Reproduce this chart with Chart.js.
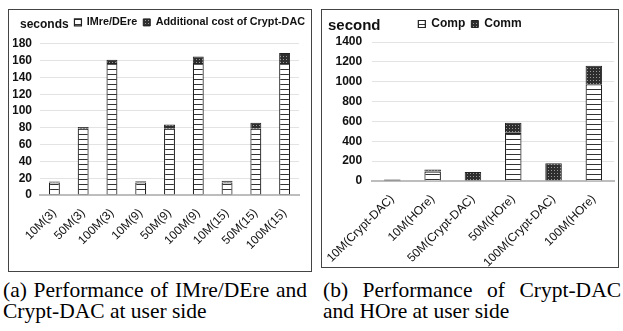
<!DOCTYPE html>
<html>
<head>
<meta charset="utf-8">
<script src="https://cdn.jsdelivr.net/npm/chart.js@4"></script>
<style>
  body { margin: 0; background: #fff; width: 623px; height: 331px; position: relative; overflow: hidden; }
  .box { position: absolute; border: 1px solid #444; box-sizing: border-box; overflow: hidden; }
  .box canvas { position: absolute; left: 0; top: 0; }
  .unit { position: absolute; font-family: "Liberation Sans", Arial, sans-serif; font-weight: bold; color: #111; }
  .cap { position: absolute; font-family: "Liberation Serif", "Times New Roman", serif; font-size: 21.5px; line-height: 21px; text-align: justify; color: #000; }
  .nw { white-space: nowrap; }
</style>
</head>
<body>
<div class="box" id="boxA" style="left:8px; top:9px; width:304px; height:263px;">
  <canvas id="chartA" width="302" height="261"></canvas>
  <div class="unit" style="left:11px; top:7px; font-size:12px;">seconds</div>
</div>
<div class="box" id="boxB" style="left:321px; top:9px; width:298px; height:259px;">
  <canvas id="chartB" width="296" height="257"></canvas>
  <div class="unit" style="left:6px; top:6px; font-size:15px;">second</div>
</div>
<div class="cap" style="left:3px; top:280px; width:304px;">(a) Performance of IMre/DEre and <span class="nw">Crypt-DAC</span> at user side</div>
<div class="cap" style="left:323px; top:280px; width:298px;">(b) Performance of <span class="nw">Crypt-DAC</span> <span class="nw">and HOre</span> at user side</div>

<script>
// Chart (a) data
const categoriesA = ["10M(3)", "50M(3)", "100M(3)", "10M(9)", "50M(9)", "100M(9)", "10M(15)", "50M(15)", "100M(15)"];
const imreDere = [15, 79, 157, 15, 79, 157, 15, 79, 157];
const additionalCost = [1, 2, 4, 1.5, 5, 8, 2, 7, 12];

// Chart (b) data
const categoriesB = ["10M(Crypt-DAC)", "10M(HOre)", "50M(Crypt-DAC)", "50M(HOre)", "100M(Crypt-DAC)", "100M(HOre)"];
const comp = [0, 96, 0, 485, 0, 975];
const comm = [15, 20, 90, 102, 179, 185];

const FONT = "'Liberation Sans', Arial, sans-serif";

// Patterns: white with horizontal stripes, and dark dotted
function stripePattern() {
  const c = document.createElement("canvas");
  c.width = 4; c.height = 5;
  const g = c.getContext("2d");
  g.fillStyle = "#fff";
  g.fillRect(0, 0, 4, 5);
  g.fillStyle = "#333";
  g.fillRect(0, 4, 4, 1);
  return g.createPattern(c, "repeat");
}

function dotPattern() {
  const c = document.createElement("canvas");
  c.width = 3; c.height = 3;
  const g = c.getContext("2d");
  g.fillStyle = "#2e2e2e";
  g.fillRect(0, 0, 3, 3);
  g.fillStyle = "#9a9a9a";
  g.fillRect(1, 1, 1, 1);
  return g.createPattern(c, "repeat");
}

// empty axes used only as spacers (below the legend / right of the plot)
function spacer(pos, size) {
  return {
    position: pos,
    display: true,
    grid: { display: false },
    border: { display: false },
    ticks: { display: false },
    afterFit: a => { if (pos === "top") a.height = size; else a.width = size; }
  };
}

function axisOpts(max, step, yWidth, xHeight, tickPad, xFont, topGap, rightGap) {
  return {
    x: {
      stacked: true,
      grid: { display: false },
      border: { color: "#bdbdbd", width: 2 },
      ticks: { autoSkip: false, minRotation: 45, maxRotation: 45, color: "#111", font: { family: FONT, size: xFont } },
      afterFit: a => { a.height = xHeight; }
    },
    y: {
      stacked: true,
      min: 0,
      max: max,
      grid: { color: "#e3e3e3", drawTicks: false },
      border: { display: false },
      ticks: { autoSkip: false, stepSize: step, padding: tickPad, color: "#111", font: { family: FONT, size: 12, weight: "bold" }, callback: v => String(v) },
      afterFit: a => { a.width = yWidth; }
    },
    x2: spacer("top", topGap),
    y2: spacer("right", rightGap)
  };
}

new Chart(document.getElementById("chartA"), {
  type: "bar",
  data: {
    labels: categoriesA,
    datasets: [
      { label: "IMre/DEre", data: imreDere, backgroundColor: stripePattern(), borderColor: "#222", borderWidth: 1.2, barPercentage: 0.38, categoryPercentage: 1 },
      { label: "Additional cost of Crypt-DAC", data: additionalCost, backgroundColor: dotPattern(), borderColor: "#222", borderWidth: 1, barPercentage: 0.38, categoryPercentage: 1 }
    ]
  },
  options: {
    responsive: false,
    animation: false,
    layout: { padding: { left: 4, right: 0, top: 1, bottom: 0 } },
    plugins: {
      tooltip: { enabled: false },
      legend: {
        align: "end",
        labels: { boxWidth: 7, boxHeight: 7, padding: 6, color: "#111", font: { family: FONT, size: 10.8, weight: "bold" } }
      }
    },
    scales: axisOpts(180, 20, 27, 76, 8, 12, 6, 12)
  }
});

new Chart(document.getElementById("chartB"), {
  type: "bar",
  data: {
    labels: categoriesB,
    datasets: [
      { label: "Comp", data: comp, backgroundColor: stripePattern(), borderColor: "#222", borderWidth: 1.2, barPercentage: 0.41, categoryPercentage: 1 },
      { label: "Comm", data: comm, backgroundColor: dotPattern(), borderColor: "#222", borderWidth: 1, barPercentage: 0.41, categoryPercentage: 1 }
    ]
  },
  options: {
    responsive: false,
    animation: false,
    layout: { padding: { left: 0, right: 0, top: 2, bottom: 0 } },
    plugins: {
      tooltip: { enabled: false },
      legend: {
        labels: { boxWidth: 7, boxHeight: 7, padding: 6, color: "#111", font: { family: FONT, size: 12, weight: "bold" } }
      }
    },
    scales: axisOpts(1400, 200, 46, 86, 10, 12, 2, 4)
  }
});
</script>
</body>
</html>
